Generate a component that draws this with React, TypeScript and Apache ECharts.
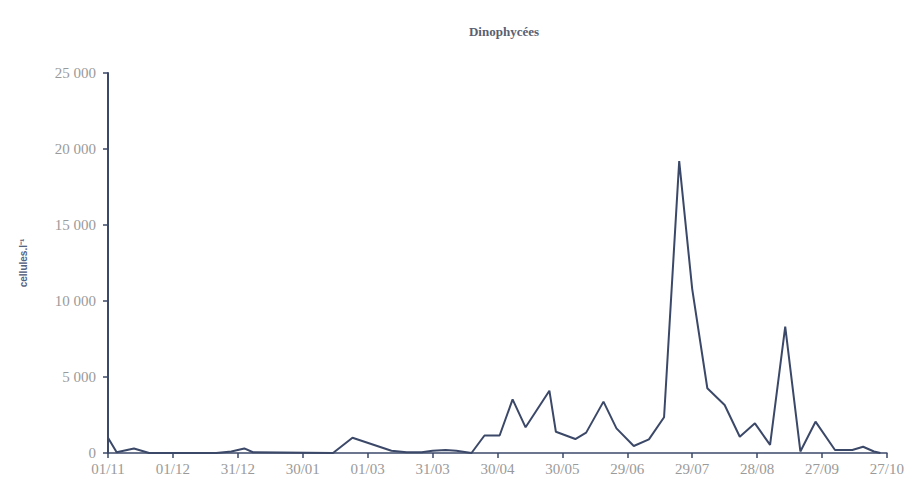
import React, { useEffect, useRef } from "react";
import * as echarts from "echarts";

// Sampling dates as day offsets from 01/11
const sampleDays = [
  0, 4, 12, 19, 50, 57, 63, 67, 104, 113, 131, 138, 145, 150, 156, 161, 168,
  174, 181, 187, 193, 204, 207, 216, 221, 229, 235, 243, 250, 257, 264, 270,
  277, 285, 292, 299, 306, 313, 320, 327, 336, 344, 349, 354, 357,
];
// Dinophycées abundance (cellules.l-1)
const cellCounts = [
  1000, 50, 300, 0, 0, 100, 300, 50, 0, 1000, 150, 50, 50, 150, 200, 150, 0,
  1150, 1150, 3530, 1690, 4100, 1400, 920, 1340, 3380, 1620, 460, 900, 2350,
  19200, 10800, 4260, 3160, 1070, 1950, 530, 8310, 100, 2060, 200, 200, 410,
  100, 0,
];
// Date labels every 30 days
const dateLabels = [
  "01/11", "01/12", "31/12", "30/01", "01/03", "31/03", "30/04",
  "30/05", "29/06", "29/07", "28/08", "27/09", "27/10",
];

const navy = "#3b4868";
const grey = "#9a9a9a";

export default function App() {
  const ref = useRef<HTMLDivElement>(null);
  useEffect(() => {
    if (!ref.current) return;
    const chart = echarts.init(ref.current, null, { renderer: "svg" });
    chart.setOption({
      animation: false,
      backgroundColor: "#ffffff",
      title: {
        text: "Dinophycées",
        left: 491,
        top: 12,
        textAlign: "center",
        textStyle: {
          fontFamily: "Liberation Serif",
          fontSize: 13,
          fontWeight: "bold",
          color: "#5a6070",
        },
      },
      grid: { left: 100, right: 18, top: 65, bottom: 29 },
      xAxis: {
        type: "value",
        min: 0,
        max: 360,
        interval: 30,
        axisLine: { show: true, onZero: true, lineStyle: { color: navy, width: 1.5 } },
        axisTick: { show: true, length: 5, lineStyle: { color: navy, width: 1.5 } },
        splitLine: { show: false },
        axisLabel: {
          margin: 8,
          fontFamily: "Liberation Serif",
          fontSize: 15,
          color: grey,
          formatter: (v: number) => dateLabels[Math.round(v / 30)] ?? "",
        },
      },
      yAxis: {
        type: "value",
        min: 0,
        max: 25000,
        interval: 5000,
        name: "cellules.l⁻¹",
        nameLocation: "middle",
        nameGap: 80,
        nameRotate: 90,
        nameTextStyle: {
          fontFamily: "Liberation Sans",
          fontSize: 10,
          fontWeight: "bold",
          color: "#56627e",
        },
        axisLine: { show: true, lineStyle: { color: navy, width: 2 } },
        axisTick: { show: true, length: 5, lineStyle: { color: navy, width: 1.5 } },
        splitLine: { show: false },
        axisLabel: {
          margin: 12,
          fontFamily: "Liberation Serif",
          fontSize: 15,
          color: grey,
          formatter: (v: number) => String(v).replace(/\B(?=(\d{3})+(?!\d))/g, " "),
        },
      },
      series: [
        {
          type: "line",
          data: sampleDays.map((d, i) => [d, cellCounts[i]]),
          showSymbol: false,
          lineStyle: { color: navy, width: 2 },
        },
      ],
    });
    return () => chart.dispose();
  }, []);
  return <div ref={ref} style={{ width: 899, height: 474 }} />;
}
